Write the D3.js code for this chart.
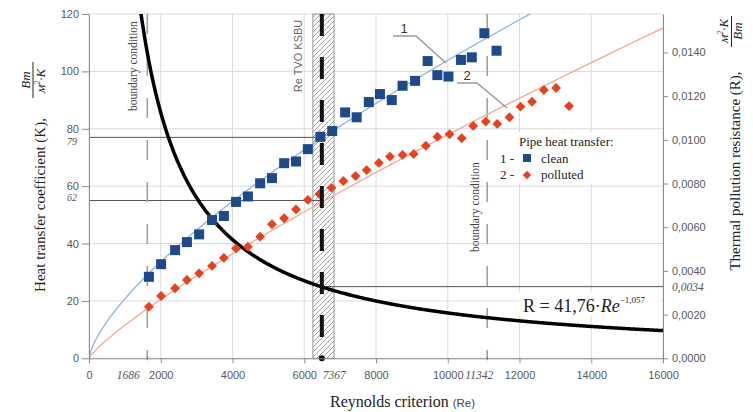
<!DOCTYPE html>
<html><head><meta charset="utf-8">
<script src="https://cdn.jsdelivr.net/npm/d3@7"></script>
<style>body{margin:0;background:#fff}svg{display:block}</style>
</head><body>
<svg id="c" width="753" height="412"></svg>
<script>
// ---------- data ----------
const reClean = [1670,2010,2400,2730,3070,3430,3760,4100,4430,4770,5100,5440,5770,6100,6450,6780,7140,7460,7800,8110,8440,8740,9090,9440,9710,10020,10370,10670,11020,11360];
const kClean  = [28.4,32.8,37.7,40.5,43.2,48.2,49.6,54.5,56.4,61.0,62.8,68.0,68.6,72.9,77.2,79.2,85.7,84.0,89.3,92.1,90.0,95.0,96.7,103.6,98.7,98.2,104.0,104.9,113.3,107.2];
const rePolluted = [1670,2010,2400,2730,3070,3430,3760,4100,4430,4770,5100,5440,5770,6100,6420,6760,7090,7430,7740,8080,8390,8740,9050,9390,9710,10050,10390,10710,11060,11380,11720,12030,12350,12680,13020,13380];
const kPolluted  = [18.0,21.7,24.4,27.3,29.6,32.2,35.0,38.3,38.9,42.4,46.7,48.8,51.9,55.2,57.3,59.4,61.8,63.5,65.6,68.1,70.3,70.9,71.2,74.1,77.2,78.1,76.7,81.0,82.5,81.7,84.0,87.7,89.4,93.5,94.2,87.9];
// trend-line coefficients  K = a*Re^b  and resistance curve R = a*Re^b (as drawn)
const cleanFit = [0.1646, 0.70];
const pollutedFit = [0.0373, 0.83];
const resistFit = [32.9, -1.05];
const xTickValues = [0,2000,4000,6000,8000,10000,12000,14000,16000];
const kTickValues = [0,20,40,60,80,100,120];
const rTickValues = [0,0.002,0.004,0.006,0.008,0.010,0.012,0.014];
// annotations (positions in axis units, labels as printed)
const boundaryRe = [1625, 11100];
const boundaryLabels = ["1686", "11342"];
const tvoRe = 6490, tvoLabel = "7367";
const tvoBand = [6240, 6830];
const kRefValues = [77.0, 55.0];
const kRefLabels = ["79", "62"];
const rRefValue = 0.00328, rRefLabel = "0,0034";

// ---------- chart ----------
const svg = d3.select("#c");
const L=89, R=663, T=14, B=358.3;
const x = d3.scaleLinear().domain([0,16000]).range([L,R]);
const yL = d3.scaleLinear().domain([0,120]).range([B,T]);
const yR = d3.scaleLinear().domain([0,0.01576]).range([B,T]);
const serif = "'Liberation Serif','Times New Roman',serif";
const sans = "'Liberation Sans',Arial,sans-serif";

const defs = svg.append("defs");
defs.append("clipPath").attr("id","clip").append("rect").attr("x",L).attr("y",T).attr("width",R-L).attr("height",B-T);
const pat = defs.append("pattern").attr("id","hatch").attr("patternUnits","userSpaceOnUse").attr("width",5).attr("height",5);
pat.append("rect").attr("width",5).attr("height",5).attr("fill","#fff");
pat.append("path").attr("d","M0,5L5,0M-1,1L1,-1M4,6L6,4").attr("stroke","#8a8a8a").attr("stroke-width",0.8);

// grid
const g = svg.append("g");
g.selectAll(".gx").data(xTickValues).join("line").attr("x1",d=>x(d)).attr("x2",d=>x(d)).attr("y1",T).attr("y2",B).attr("stroke","#dcdcdc");
g.selectAll(".gy").data(kTickValues).join("line").attr("y1",d=>yL(d)).attr("y2",d=>yL(d)).attr("x1",L).attr("x2",R).attr("stroke","#dcdcdc");

// legend & formula backgrounds
svg.append("rect").attr("x",500).attr("y",132).attr("width",132).attr("height",52).attr("fill","#fff");
svg.append("rect").attr("x",519).attr("y",292).attr("width",141).attr("height",24).attr("fill","#fff");

// hatched band
svg.append("rect").attr("x",x(tvoBand[0])).attr("y",T).attr("width",x(tvoBand[1])-x(tvoBand[0])).attr("height",B-T)
  .attr("fill","url(#hatch)").attr("stroke","#999").attr("stroke-width",1);

// reference lines
svg.selectAll(".kref").data(kRefValues).join("line").attr("x1",L).attr("x2",x(tvoRe)).attr("y1",d=>yL(d)).attr("y2",d=>yL(d)).attr("stroke","#555").attr("stroke-width",1);
svg.append("line").attr("x1",x(tvoRe)).attr("x2",R).attr("y1",yR(rRefValue)).attr("y2",yR(rRefValue)).attr("stroke","#555").attr("stroke-width",1);

// boundary lines
svg.selectAll(".bnd").data(boundaryRe).join("line").attr("x1",d=>x(d)).attr("x2",d=>x(d)).attr("y1",T).attr("y2",B)
  .attr("stroke","#a0a0a0").attr("stroke-width",1.6).attr("stroke-dasharray","20,22");

// trend lines
const plot = svg.append("g").attr("clip-path","url(#clip)");
const reSamples = d3.range(0,16001,50);
plot.append("path").datum(reSamples).attr("fill","none").attr("stroke","#8fb3dc").attr("stroke-width",1.3)
  .attr("d",d3.line().x(d=>x(d)).y(d=>yL(cleanFit[0]*Math.pow(d,cleanFit[1]))));
plot.append("path").datum(reSamples).attr("fill","none").attr("stroke","#f4a792").attr("stroke-width",1.3)
  .attr("d",d3.line().x(d=>x(d)).y(d=>yL(pollutedFit[0]*Math.pow(d,pollutedFit[1]))));

// markers
svg.selectAll(".sq").data(reClean.map((r,i)=>[r,kClean[i]])).join("rect")
  .attr("x",d=>x(d[0])-5).attr("y",d=>yL(d[1])-5).attr("width",10).attr("height",10).attr("fill","#1f4a8a");
svg.selectAll(".dm").data(rePolluted.map((r,i)=>[r,kPolluted[i]])).join("rect")
  .attr("x",-3.5).attr("y",-3.5).attr("width",7).attr("height",7).attr("fill","#e5431f")
  .attr("transform",d=>`translate(${x(d[0])},${yL(d[1])}) rotate(45)`);

// resistance curve
plot.append("path").datum(d3.range(1200,16001,25)).attr("fill","none").attr("stroke","#000").attr("stroke-width",3.5)
  .attr("d",d3.line().x(d=>x(d)).y(d=>yR(resistFit[0]*Math.pow(d,resistFit[1]))));

// TVO dashed line
svg.append("line").attr("x1",x(tvoRe)).attr("x2",x(tvoRe)).attr("y1",T).attr("y2",B).attr("stroke","#111").attr("stroke-width",4).attr("stroke-dasharray","22,21");
svg.append("circle").attr("cx",x(tvoRe)).attr("cy",B).attr("r",3).attr("fill","#000");

// axes
function styleAxis(sel){
  sel.select(".domain").attr("stroke","#8c8c8c");
  sel.selectAll(".tick line").attr("stroke","#8c8c8c");
  sel.selectAll(".tick text").attr("fill","#595959").style("font-family",sans).style("font-size","11px");
}
svg.append("g").attr("transform",`translate(${L},0)`).call(d3.axisLeft(yL).tickValues(kTickValues).tickSize(7).tickSizeOuter(0).tickPadding(3)).call(styleAxis);
svg.append("g").attr("transform",`translate(${R},0)`).call(d3.axisRight(yR).tickValues(rTickValues).tickSize(5).tickSizeOuter(0).tickPadding(4)
  .tickFormat(d=>d3.format(".4f")(d).replace(".",","))).call(styleAxis);
svg.append("g").attr("transform",`translate(0,${B})`).call(d3.axisBottom(x).tickValues(xTickValues).tickSize(5).tickSizeOuter(0).tickPadding(8)
  .tickFormat(d3.format("d"))).call(styleAxis);
// extra ticks
svg.selectAll(".bt").data(boundaryRe).join("line").attr("x1",d=>x(d)).attr("x2",d=>x(d)).attr("y1",B-2).attr("y2",B+2).attr("stroke","#777");

// italic annotation labels
const it = (sel)=>sel.style("font-family",serif).style("font-style","italic").style("font-size","11.5px").attr("fill","#555");
svg.selectAll(".bl").data(boundaryLabels).join("text").attr("x",(d,i)=>i===0?x(boundaryRe[i])-19:x(boundaryRe[i])-8).attr("y",379)
  .attr("text-anchor","middle").text(d=>d).call(it);
svg.append("text").attr("x",x(tvoRe)+1).attr("y",379).text(tvoLabel).call(it);
svg.selectAll(".kl").data(kRefLabels).join("text").attr("x",77).attr("y",(d,i)=>yL(kRefValues[i])+(i===0?8:1)).attr("text-anchor","end").text(d=>d).call(it).style("font-size","10px");
svg.append("text").attr("x",672).attr("y",yR(rRefValue)+4).text(rRefLabel).call(it);

// rotated texts
function vtext(cx, cy, txt, font, size, color, style){
  return svg.append("text").attr("transform",`translate(${cx},${cy}) rotate(-90)`).attr("text-anchor","middle")
    .style("font-family",font).style("font-size",size).style("font-style",style||"normal").attr("fill",color).text(txt);
}
vtext(137, 66, "boundary condition", serif, "11.5px", "#444");
vtext(479, 207, "boundary condition", serif, "11.5px", "#444");
vtext(302, 56, "Re TVO KSBU", sans, "11px", "#666");

// left axis title
vtext(45, 205, "Heat transfer coefficient (K),", serif, "15px", "#222");
vtext(30, 80, "Вт", serif, "13px", "#222", "italic");
svg.append("line").attr("x1",33).attr("x2",33).attr("y1",62).attr("y2",98).attr("stroke","#222");
const lf = svg.append("text").attr("transform","translate(45,81) rotate(-90)").attr("text-anchor","middle")
  .style("font-family",serif).style("font-size","13px").style("font-style","italic").attr("fill","#222");
lf.append("tspan").text("м");
lf.append("tspan").attr("dy",-5).style("font-size","8px").text("2");
lf.append("tspan").attr("dy",5).text("·K");

// right axis title
vtext(740, 171, "Thermal pollution resistance (R),", serif, "15px", "#222");
const rf = svg.append("text").attr("transform","translate(728,31) rotate(-90)").attr("text-anchor","middle")
  .style("font-family",serif).style("font-size","13px").style("font-style","italic").attr("fill","#222");
rf.append("tspan").text("м");
rf.append("tspan").attr("dy",-5).style("font-size","8px").text("2");
rf.append("tspan").attr("dy",5).text("·K");
svg.append("line").attr("x1",731.5).attr("x2",731.5).attr("y1",16).attr("y2",47).attr("stroke","#222");
vtext(742, 31, "Вт", serif, "13px", "#222", "italic");

// x axis title
const xt = svg.append("text").attr("x",330).attr("y",407).style("font-family",serif).style("font-size","16px").attr("fill","#222");
xt.append("tspan").text("Reynolds criterion ");
xt.append("tspan").style("font-family",sans).style("font-size","11.5px").attr("fill","#444").text("(Re)");

// series labels 1, 2 with leaders
svg.append("text").attr("x",404).attr("y",33).attr("text-anchor","middle").style("font-family",sans).style("font-size","13px").attr("fill","#333").text("1");
svg.append("polyline").attr("points","393,36 416,36 446,63").attr("fill","none").attr("stroke","#9a9a9a").attr("stroke-width",1.5);
svg.append("text").attr("x",467).attr("y",80).attr("text-anchor","middle").style("font-family",sans).style("font-size","13px").attr("fill","#333").text("2");
svg.append("polyline").attr("points","457,83 477,83 507,108").attr("fill","none").attr("stroke","#9a9a9a").attr("stroke-width",1.5);

// legend
const lg = svg.append("g").style("font-family",serif).style("font-size","13px").attr("fill","#222");
lg.append("text").attr("x",519).attr("y",146).text("Pipe heat transfer:");
lg.append("text").attr("x",500).attr("y",163).text("1 -");
lg.append("rect").attr("x",523).attr("y",154).attr("width",8).attr("height",8).attr("fill","#1f4a8a");
lg.append("text").attr("x",541).attr("y",163).text("clean");
lg.append("text").attr("x",500).attr("y",179).text("2 -");
lg.append("rect").attr("x",-3).attr("y",-3).attr("width",6).attr("height",6).attr("fill","#e5431f").attr("transform","translate(527,175) rotate(45)");
lg.append("text").attr("x",541).attr("y",179).text("polluted");

// formula
const fm = svg.append("text").attr("x",523).attr("y",312).style("font-family",serif).style("font-size","18px").attr("fill","#222");
fm.append("tspan").text("R = 41,76·");
fm.append("tspan").style("font-style","italic").text("Re");
fm.append("tspan").attr("dy",-9).style("font-size","9px").text("−1,057");
</script>
</body></html>
